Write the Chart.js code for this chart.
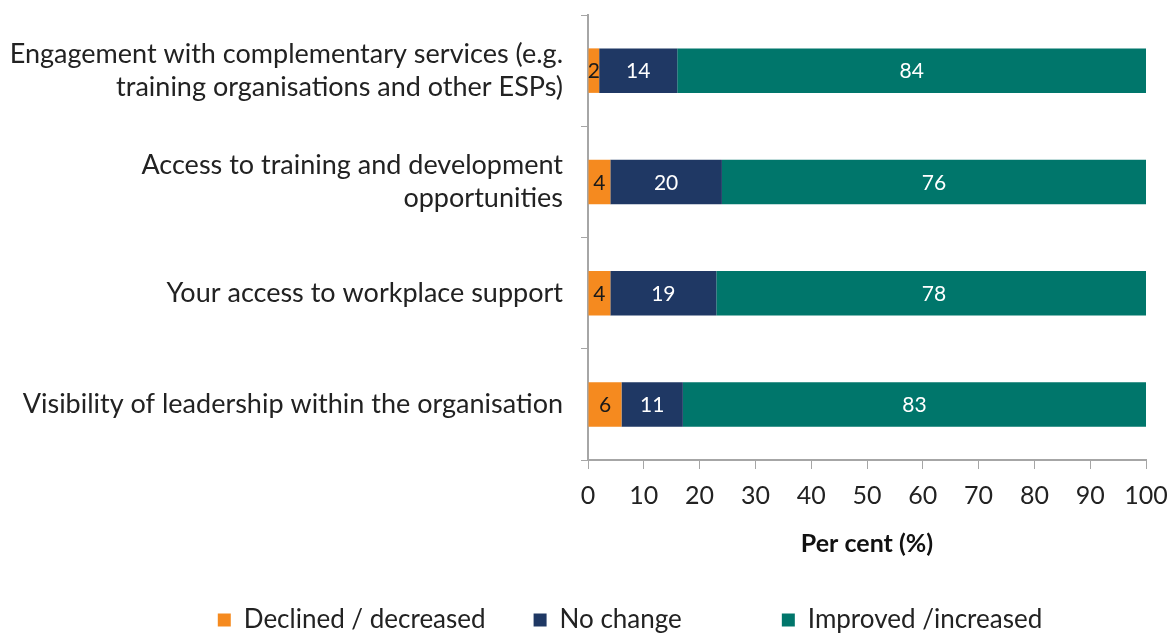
<!DOCTYPE html>
<html>
<head>
<meta charset="utf-8">
<script src="https://cdn.jsdelivr.net/npm/chart.js@4/dist/chart.umd.min.js"></script>
<style>
  html, body { margin: 0; padding: 0; background: #fff; }
  #wrap { width: 1171px; height: 633px; }
</style>
</head>
<body>
<div id="wrap"><canvas id="c" width="1171" height="633"></canvas></div>
<script>
// ── data ────────────────────────────────────────────
const categories = [
  ['Engagement with complementary services (e.g.', 'training organisations and other ESPs)'],
  ['Access to training and development', 'opportunities'],
  'Your access to workplace support',
  'Visibility of leadership within the organisation'
];
const declined = [2, 4, 4, 6];
const noChange = [14, 20, 19, 11];
const improved = [84, 76, 78, 83];
const xTicks = [0, 10, 20, 30, 40, 50, 60, 70, 80, 90, 100];

const FONT = 'Lato, "Open Sans", sans-serif';
const AXIS = '#a6a6a6';

// labels in the middle of each bar segment
const barLabels = {
  id: 'barLabels',
  afterDatasetsDraw(chart) {
    const ctx = chart.ctx;
    ctx.save();
    ctx.font = '21px ' + FONT;
    ctx.textAlign = 'center';
    ctx.textBaseline = 'middle';
    chart.data.datasets.forEach((ds, i) => {
      const meta = chart.getDatasetMeta(i);
      meta.data.forEach((el, j) => {
        const p = el.getProps(['x', 'y', 'base'], true);
        ctx.fillStyle = ds.labelColor;
        ctx.fillText(String(ds.data[j]), (p.x + p.base) / 2, p.y + 1);
      });
    });
    ctx.restore();
  }
};

// legend sits a little right of the canvas centre in the original
const legendShift = {
  id: 'legendShift',
  afterLayout(chart) {
    chart.legend.left += 57;
    chart.legend.right += 57;
  }
};

new Chart(document.getElementById('c'), {
  type: 'bar',
  data: {
    labels: categories,
    datasets: [
      { label: 'Declined / decreased', data: declined, backgroundColor: '#f58a1f', labelColor: '#1a1a1a' },
      { label: 'No change', data: noChange, backgroundColor: '#1f3864', labelColor: '#ffffff' },
      { label: 'Improved /increased', data: improved, backgroundColor: '#00766b', labelColor: '#ffffff' }
    ]
  },
  options: {
    indexAxis: 'y',
    responsive: false,
    animation: false,
    barPercentage: 0.8,
    categoryPercentage: 0.5,
    layout: { padding: { top: 15, right: 25, left: 0, bottom: -10 } },
    plugins: {
      legend: {
        position: 'bottom',
        labels: {
          font: { family: FONT, size: 26 },
          color: '#222',
          boxWidth: 13,
          boxHeight: 13,
          padding: 48,
          // Excel spaces the legend slots unevenly; widen the middle one a bit
          generateLabels(chart) {
            const items = Chart.defaults.plugins.legend.labels.generateLabels(chart);
            items[1].text += '\u2002\u2002\u2002\u2002';
            return items;
          }
        }
      },
      tooltip: { enabled: false }
    },
    scales: {
      x: {
        stacked: true,
        min: 0,
        max: 100,
        afterBuildTicks(ax) { ax.ticks = xTicks.map(v => ({ value: v })); },
        afterFit(ax) { ax.height = 99; ax.paddingLeft = 0; ax.paddingRight = 0; },
        grid: { drawOnChartArea: false, color: AXIS, tickLength: 9 },
        border: { color: AXIS, width: 2 },
        ticks: { font: { family: FONT, size: 25 }, color: '#222', padding: 12 },
        title: {
          display: true,
          text: 'Per cent (%)',
          font: { family: FONT, size: 25, weight: 'bold' },
          color: '#111',
          padding: { top: 0, bottom: 0 }
        }
      },
      y: {
        stacked: true,
        afterFit(ax) { ax.width = 588; ax.paddingTop = 0; ax.paddingBottom = 0; },
        grid: { drawOnChartArea: false, color: AXIS, tickLength: 7, offset: true },
        border: { color: AXIS, width: 2 },
        ticks: { font: { family: FONT, size: 27, lineHeight: 1.22 }, color: '#222', padding: 18 }
      }
    }
  },
  plugins: [barLabels, legendShift]
});
</script>
</body>
</html>
